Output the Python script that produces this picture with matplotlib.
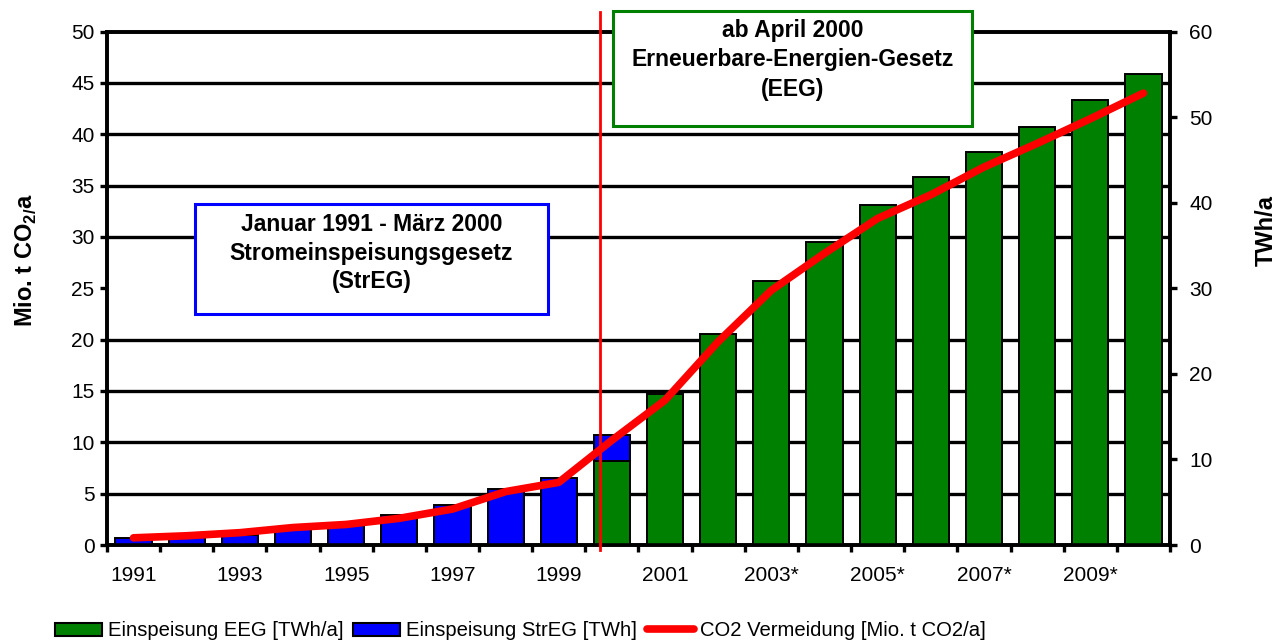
import numpy as np
import matplotlib.pyplot as plt
from matplotlib.patches import Rectangle, Patch
from matplotlib.lines import Line2D
from matplotlib.ticker import MultipleLocator

plt.rcParams['font.family'] = ['Liberation Sans', 'DejaVu Sans']
plt.rcParams['mathtext.fontset'] = 'custom'
plt.rcParams['mathtext.rm'] = 'Liberation Sans'
plt.rcParams['mathtext.bf'] = 'Liberation Sans:bold'

# Daten
jahre = ['1991', '1992', '1993', '1994', '1995', '1996', '1997', '1998', '1999', '2000',
         '2001', '2002', '2003*', '2004*', '2005*', '2006*', '2007*', '2008*', '2009*', '2010*']
eeg_twh = [0, 0, 0, 0, 0, 0, 0, 0, 0, 9.8,
           17.6, 24.6, 30.8, 35.4, 39.7, 43.0, 45.9, 48.9, 52.0, 55.0]
streg_twh = [0.8, 0.95, 1.2, 2.0, 2.6, 3.5, 4.7, 6.6, 7.8, 3.05,
             0, 0, 0, 0, 0, 0, 0, 0, 0, 0]
co2_mio_t = [0.7, 0.9, 1.2, 1.7, 2.0, 2.6, 3.5, 5.2, 6.1, 10.2,
             14.1, 19.8, 24.8, 28.4, 31.8, 34.1, 36.8, 39.1, 41.5, 44.0]

gruen = '#008000'
blau = '#0000FF'
rot = '#FF0000'

x = np.arange(len(jahre))
eeg = np.array(eeg_twh)
streg = np.array(streg_twh)

fig = plt.figure(figsize=(12.87, 6.43), dpi=100)
ax = fig.add_axes([0.0831, 0.1524, 0.8260, 0.7986])
ax2 = ax.twinx()
ax.set_zorder(2)
ax.patch.set_visible(False)
ax2.set_zorder(1)

# Säulen (rechte Achse, TWh)
m_eeg = eeg > 0
m_str = streg > 0
ax2.bar(x[m_eeg], eeg[m_eeg], width=0.68, color=gruen, edgecolor='black', linewidth=1.4, zorder=3)
ax2.bar(x[m_str], streg[m_str], bottom=eeg[m_str], width=0.68, color=blau,
        edgecolor='black', linewidth=1.4, zorder=3)
ax2.set_ylim(0, 60)
ax2.yaxis.set_major_locator(MultipleLocator(10))
# Gitterlinien im 5er-Raster der linken Achse (= 6 TWh)
ax2.yaxis.set_minor_locator(MultipleLocator(6))
ax2.grid(which='minor', axis='y', color='black', linewidth=2.4, zorder=0)
ax2.set_axisbelow(True)
ax2.tick_params(axis='y', which='minor', length=0)
ax2.tick_params(axis='y', which='major', direction='out', length=5, width=2.4,
                labelsize=15, pad=9)
ax2.set_ylabel('TWh/a', fontsize=17, fontweight='bold')
ax2.yaxis.set_label_coords(1.080, 0.613)

# CO2-Linie (linke Achse)
ax.plot(x, co2_mio_t, color=rot, linewidth=5.5, solid_capstyle='round', zorder=4)
ax.set_ylim(0, 50)
ax.set_xlim(-0.5, len(jahre) - 0.5)
ax.yaxis.set_major_locator(MultipleLocator(5))
ax.tick_params(axis='y', direction='out', length=5, width=2.4, labelsize=15, pad=4)
ax.set_ylabel(r'Mio. t CO$_{\mathbf{2/}}$a', fontsize=17, fontweight='bold')
ax.yaxis.set_label_coords(-0.064, 0.555)

# x-Achse: Beschriftung jedes zweite Jahr, Striche zwischen den Kategorien
ax.set_xticks(x[::2])
ax.set_xticklabels(jahre[::2])
ax.set_xticks(np.arange(len(jahre) + 1) - 0.5, minor=True)
ax.tick_params(axis='x', which='major', length=0, labelsize=15, pad=15)
ax.tick_params(axis='x', which='minor', direction='out', length=5, width=2.4)

for a in (ax, ax2):
    for s in a.spines.values():
        s.set_linewidth(2.6)

# Senkrechte Linie: Übergang StrEG -> EEG
ax.axvline(8.77, ymin=-0.01, ymax=1.038, color=rot, linewidth=2.0, clip_on=False, zorder=5)

# Textkästen
fig.add_artist(Rectangle((0.1515, 0.5117), 0.2743, 0.1711, transform=fig.transFigure,
                         facecolor='white', edgecolor=blau, linewidth=2.2, zorder=10))
fig.text(0.2887, 0.6065, 'Januar 1991 - März 2000\nStromeinspeisungsgesetz\n(StrEG)',
         ha='center', va='center', fontsize=16.5, fontweight='bold', linespacing=1.3, zorder=11)
fig.add_artist(Rectangle((0.4763, 0.8040), 0.2789, 0.1788, transform=fig.transFigure,
                         facecolor='white', edgecolor=gruen, linewidth=2.2, zorder=10))
fig.text(0.6158, 0.9070, 'ab April 2000\nErneuerbare-Energien-Gesetz\n(EEG)',
         ha='center', va='center', fontsize=16.5, fontweight='bold', linespacing=1.35, zorder=11)

# Legende
handles = [Patch(facecolor=gruen, edgecolor='black', linewidth=1.5),
           Patch(facecolor=blau, edgecolor='black', linewidth=1.5),
           Line2D([0], [0], color=rot, linewidth=5.5, solid_capstyle='round')]
labels = ['Einspeisung EEG [TWh/a]', 'Einspeisung StrEG [TWh]', 'CO2 Vermeidung [Mio. t CO2/a]']
fig.legend(handles, labels, loc='center left', bbox_to_anchor=(55 / 1287, 0.019), ncol=3,
           frameon=False, fontsize=14.6, handlelength=2.3, handleheight=0.6,
           handletextpad=0.3, columnspacing=0.5, borderpad=0, borderaxespad=0)

fig.savefig('out.png', dpi=100)
